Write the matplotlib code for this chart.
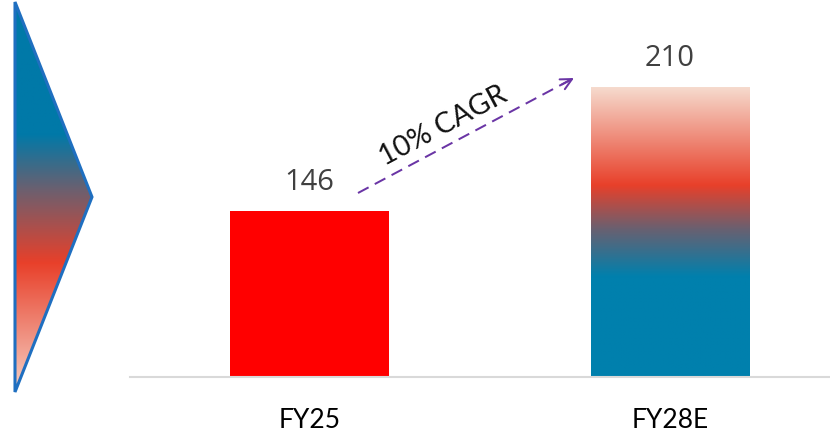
import matplotlib
matplotlib.use("Agg")
import matplotlib.pyplot as plt
import numpy as np
from matplotlib.colors import LinearSegmentedColormap
from matplotlib.patches import Polygon

categories = ["FY25", "FY28E"]
values = [146, 210]
value_labels = ["146", "210"]
cagr_label = "10% CAGR"

W, H = 830, 436
PT = 72 / 100  # points per pixel
fig = plt.figure(figsize=(W / 100, H / 100), dpi=100)

# main axes: pixel x 130..830, y 0..377
ax = fig.add_axes([130 / W, (H - 377) / H, 700 / W, 377 / H])
k = 1.9375
vmin = 60.3
ax.set_ylim(vmin, vmin + 377 / k)
ax.set_xlim((130 - 309.5) / 360.5, (830 - 309.5) / 360.5)
for s in ["top", "right", "left"]:
    ax.spines[s].set_visible(False)
ax.spines["bottom"].set_color("#d9d9d9")
ax.spines["bottom"].set_linewidth(1.5)
ax.tick_params(left=False, labelleft=False, bottom=False, length=0)
ax.set_xticks(range(len(categories)))
ax.set_xticklabels(categories, fontsize=19, color="#000000", family="Lato")
for lab in ax.get_xticklabels():
    lab.set_va("baseline")
ax.tick_params(axis="x", pad=51 * PT)

bw = 0.441
bars = ax.bar(range(len(categories)), [v - vmin for v in values], bottom=vmin, width=bw,
              color=["#ff0000", "none"], edgecolor="none", zorder=2)

grad_cmap = LinearSegmentedColormap.from_list("g", [
    (0.0, "#f6dccf"), (0.34, "#e8402a"), (0.49, "#6a6070"), (0.655, "#0080ad"), (1.0, "#0080ad")])
b = bars[1]
x0, y0, w, h = b.get_x(), b.get_y(), b.get_width(), b.get_height()
grad = np.linspace(0, 1, 256).reshape(-1, 1)
im = ax.imshow(grad, cmap=grad_cmap, extent=[x0, x0 + w, y0, y0 + h], aspect="auto",
               origin="upper", zorder=2, interpolation="bilinear")
im.set_clip_path(b)
ax.set_xlim((130 - 309.5) / 360.5, (830 - 309.5) / 360.5)
ax.set_ylim(vmin, vmin + 377 / k)

for i, (v, lab) in enumerate(zip(values, value_labels)):
    ax.annotate(lab, (i, v), xytext=(0, 20.5 * PT), textcoords="offset points", ha="center",
                va="baseline", fontsize=21, color="#404040", family="Open Sans")

# CAGR arrow in pixel coordinates via an overlay axes
ov = fig.add_axes([0, 0, 1, 1])
ov.set_xlim(0, W)
ov.set_ylim(H, 0)
ov.axis("off")
ov.patch.set_alpha(0)
sx, sy, ex, ey = 358, 193, 574, 78
ov.plot([sx, ex - 4], [sy, ey + 2.1], color="#6a35a5", lw=2 * PT,
        linestyle=(0, (6, 3.5)), solid_capstyle="butt")
ov.annotate("", xy=(ex, ey), xytext=(ex - 12, ey + 6.4),
            arrowprops=dict(arrowstyle="->", color="#6a35a5", lw=2 * PT, mutation_scale=20,
                            shrinkA=0, shrinkB=0))
ov.text(443, 126, cagr_label, rotation=28, ha="center", va="center", fontsize=20.5,
        color="#111111", family="Lato", rotation_mode="anchor")

# left triangle with gradient
tri_cmap = LinearSegmentedColormap.from_list("t", [
    (0.0, "#0079a8"), (0.34, "#0079a8"), (0.48, "#6a6070"), (0.67, "#e8402a"), (1.0, "#f6d0c4")])
poly = Polygon([[15, 2], [92, 197], [15, 392]], closed=True, facecolor="none",
               edgecolor="#1f6fc0", linewidth=2.2, zorder=3, joinstyle="miter")
ov.add_patch(poly)
tim = ov.imshow(np.linspace(0, 1, 256).reshape(-1, 1), cmap=tri_cmap,
                extent=[15, 92, 392, 2], aspect="auto", origin="upper", zorder=2,
                interpolation="bilinear")
tim.set_clip_path(poly)
ov.set_xlim(0, W)
ov.set_ylim(H, 0)

fig.savefig("out.png", dpi=100)
